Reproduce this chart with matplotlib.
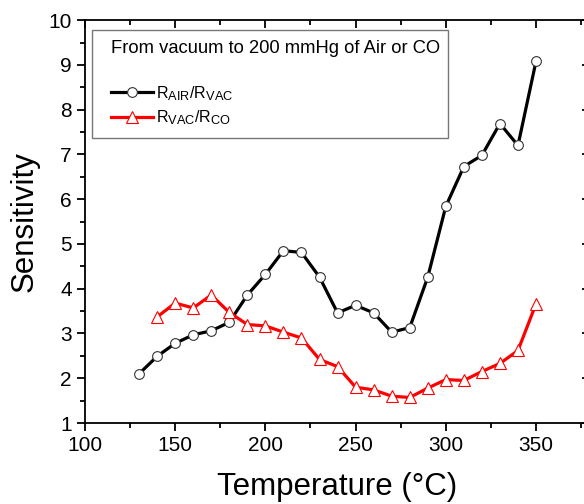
import matplotlib
matplotlib.use("Agg")
import matplotlib.pyplot as plt
import matplotlib._mathtext as _mt
from matplotlib.ticker import MultipleLocator
from matplotlib.patches import Rectangle

_mt.SHRINK_FACTOR = 0.8

plt.rcParams['font.family'] = ['Liberation Sans', 'DejaVu Sans']
plt.rcParams['mathtext.fontset'] = 'custom'
plt.rcParams['mathtext.rm'] = 'Liberation Sans'

temp_air = [130, 140, 150, 160, 170, 180, 190, 200, 210, 220, 230, 240,
            250, 260, 270, 280, 290, 300, 310, 320, 330, 340, 350]
r_air_vac = [2.10, 2.49, 2.78, 2.97, 3.06, 3.25, 3.86, 4.32, 4.85, 4.81, 4.26, 3.46,
             3.63, 3.46, 3.03, 3.13, 4.26, 5.84, 6.73, 6.98, 7.69, 7.20, 9.08]

temp_co = [140, 150, 160, 170, 180, 190, 200, 210, 220, 230, 240,
           250, 260, 270, 280, 290, 300, 310, 320, 330, 340, 350]
r_vac_co = [3.37, 3.68, 3.57, 3.86, 3.47, 3.20, 3.17, 3.03, 2.90, 2.42, 2.26,
            1.80, 1.74, 1.60, 1.57, 1.78, 1.97, 1.95, 2.15, 2.33, 2.62, 3.66]

fig = plt.figure(figsize=(5.84, 5.04), dpi=100)
ax = fig.add_axes([0.1455, 0.1607, 0.865, 0.7993])

ax.plot(temp_air, r_air_vac, color='black', lw=2.3, marker='o', ms=7.0,
        mfc='white', mec='#333333', mew=0.8, label=r'$\mathregular{R_{AIR}/R_{VAC}}$', zorder=3)
ax.plot(temp_co, r_vac_co, color='red', lw=2.3, marker='^', ms=8.5,
        mfc='white', mec='red', mew=0.8, label=r'$\mathregular{R_{VAC}/R_{CO}}$', zorder=3)

ax.set_xlim(100, 380)
ax.set_ylim(1, 10)
ax.xaxis.set_major_locator(MultipleLocator(50))
ax.xaxis.set_minor_locator(MultipleLocator(25))
ax.yaxis.set_major_locator(MultipleLocator(1))
ax.yaxis.set_minor_locator(MultipleLocator(0.5))

for s in ax.spines.values():
    s.set_linewidth(1.3)

ax.tick_params(axis='both', which='major', direction='out', length=6, width=1.3,
               labelsize=15, top=False, right=False)
ax.tick_params(axis='both', which='minor', direction='out', length=3.5, width=1.3,
               top=False, right=False)

# mirrored inward ticks on top/right
axt = ax.secondary_xaxis('top')
axt.xaxis.set_major_locator(MultipleLocator(50))
axt.xaxis.set_minor_locator(MultipleLocator(25))
axt.tick_params(which='major', direction='in', length=6, width=1.3, labeltop=False)
axt.tick_params(which='minor', direction='in', length=3.5, width=1.3)
axt.spines['top'].set_visible(False)
axr = ax.secondary_yaxis('right')
axr.yaxis.set_major_locator(MultipleLocator(1))
axr.yaxis.set_minor_locator(MultipleLocator(0.5))
axr.tick_params(which='major', direction='in', length=6, width=1.3, labelright=False)
axr.tick_params(which='minor', direction='in', length=3.5, width=1.3)
axr.spines['right'].set_visible(False)

ax.set_xlabel('Temperature (°C)', fontsize=22.5, labelpad=12)
ax.set_ylabel('Sensitivity', fontsize=22.5, labelpad=6)

# legend frame
ax.add_patch(Rectangle((0.0139, 0.7076), 0.705, 0.2681, transform=ax.transAxes,
                       fill=True, facecolor='white', edgecolor='#777777', lw=1.0, zorder=4))

leg = ax.legend(loc='upper left', bbox_to_anchor=(0.0525, 0.951),
                title='From vacuum to 200 mmHg of Air or CO', title_fontsize=13.2,
                fontsize=11.5, frameon=False, borderpad=0, labelspacing=0.35,
                handlelength=2.6, handletextpad=0.2, borderaxespad=0)
leg._legend_box.align = 'left'
leg._legend_box.sep = 19.5
leg.set_zorder(5)

fig.savefig('out.png', dpi=100)
